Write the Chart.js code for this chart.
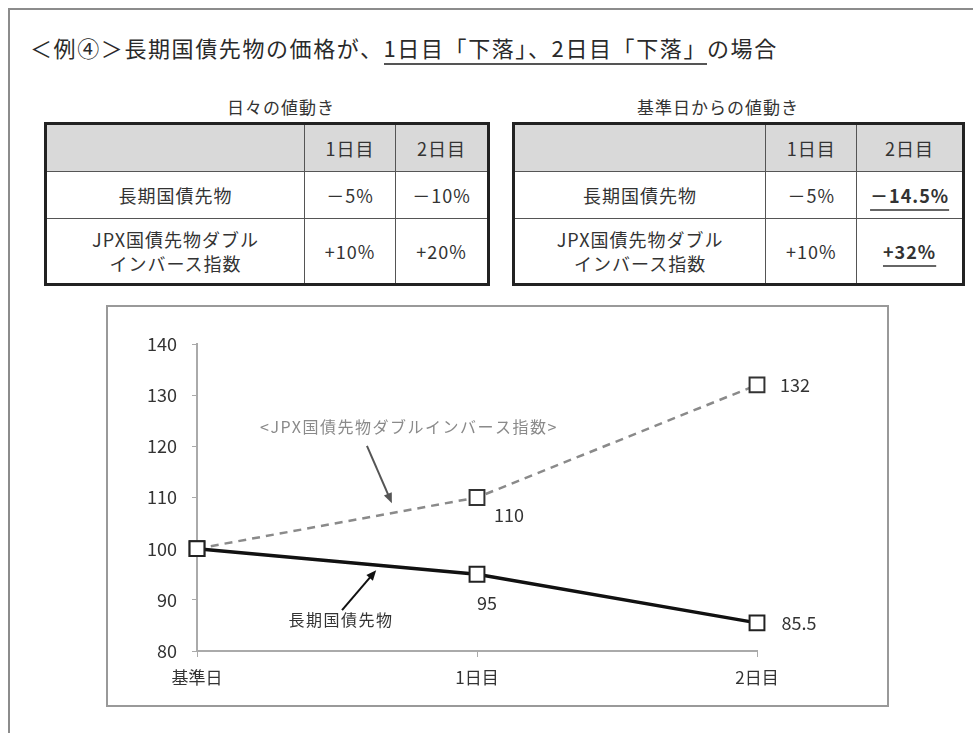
<!DOCTYPE html>
<html>
<head>
<meta charset="utf-8">
<script src="https://cdn.jsdelivr.net/npm/chart.js@4.4.0/dist/chart.umd.min.js"></script>
<style>
  body { margin: 0; width: 973px; height: 733px; overflow: hidden; background: #fff; position: relative;
         font-family: "Noto Sans CJK JP", sans-serif; color: #333; }
  .frame { position: absolute; left: 8px; top: 8px; width: 1000px; height: 800px; border: 2px solid #8c8c8c; }
  .title { position: absolute; left: 30px; top: 31px; font-size: 22px; line-height: 32px; color: #2a2a2a;
           white-space: nowrap; letter-spacing: 1.6px; }
  .title .ul { border-bottom: 2.5px solid #555; padding-bottom: 0px; }
  .sub { position: absolute; top: 96px; font-size: 17px; line-height: 22px; letter-spacing: 1px;
         transform: translateX(-50%); white-space: nowrap; }
  table { position: absolute; top: 122px; border-collapse: collapse; font-size: 18px; color: #333;
          border: 3px solid #222; letter-spacing: 1px; }
  td { border: 1.5px solid #555; text-align: center; padding: 0; line-height: 24px; }
  tr.head td { background: #d9d9d9; height: 46px; }
  tr.r1 td { height: 46px; }
  tr.r2 td { height: 64px; }
  .em { font-weight: bold; text-decoration: underline; text-decoration-thickness: 2px; text-underline-offset: 6px; text-decoration-color: #666; }
  .box { position: absolute; left: 106px; top: 305px; width: 779px; height: 398px; border: 2px solid #999; }
  canvas { display: block; }
</style>
</head>
<body>
<div class="frame"></div>
<div class="title">＜例④＞長期国債先物の価格が、<span class="ul">1日目「下落」、2日目「下落」</span>の場合</div>
<div class="sub" style="left:281px">日々の値動き</div>
<div class="sub" style="left:718px">基準日からの値動き</div>
<table id="tblDaily" style="left:44px;width:446px"></table>
<table id="tblCum" style="left:512px;width:453px"></table>
<div class="box"><canvas id="chart" width="779" height="398"></canvas></div>

<script>
// chart data
const categories = ['基準日', '1日目', '2日目'];
const futuresValues = [100, 95, 85.5];
const inverseValues = [100, 110, 132];
const yTicks = [80, 90, 100, 110, 120, 130, 140];

// table data
const dayHeaders = ['1日目', '2日目'];
const rowNames = ['長期国債先物', 'JPX国債先物ダブル<br>インバース指数'];
const dailyFutures = ['－5%', '－10%'];
const dailyInverse = ['+10%', '+20%'];
const cumFutures = ['－5%', '－14.5%'];
const cumInverse = ['+10%', '+32%'];

// Build a table
function buildTable(id, firstWidth, colWidths, rows, emphasize) {
  const t = document.getElementById(id);
  let html = `<tr class="head"><td style="width:${firstWidth}px"></td>`;
  dayHeaders.forEach((h, i) => { html += `<td style="width:${colWidths[i]}px">${h}</td>`; });
  html += '</tr>';
  rows.forEach((vals, r) => {
    html += `<tr class="r${r + 1}"><td>${rowNames[r]}</td>`;
    vals.forEach((v, i) => {
      const cls = emphasize && i === 1 ? ' class="em"' : '';
      html += `<td><span${cls}>${v}</span></td>`;
    });
    html += '</tr>';
  });
  t.innerHTML = html;
}
buildTable('tblDaily', 263, [91, 92], [dailyFutures, dailyInverse], false);
buildTable('tblCum', 256, [91, 106], [cumFutures, cumInverse], true);

// Point label offsets (px) per dataset / point
const labelOffsets = [
  [null, [10, 29], [42, 0]],
  [null, [32, 18], [38, 0]]
];

// Callouts in data coordinates (x = category index, y = value)
const callouts = [
  { text: '<JPX国債先物ダブルインバース指数>', x: 0.757, y: 123.8, color: '#8a8a8a',
    from: [0.607, 120.1], to: [0.696, 108.9], arrowColor: '#555' },
  { text: '長期国債先物', x: 0.514, y: 86.1, color: '#333',
    from: [0.518, 88.0], to: [0.64, 95.8], arrowColor: '#111' }
];

const labelPlugin = {
  id: 'labelPlugin',
  afterDatasetsDraw(chart) {
    const ctx = chart.ctx;
    const xs = chart.scales.x, ys = chart.scales.y;
    ctx.save();
    ctx.textAlign = 'center';
    ctx.textBaseline = 'middle';
    ctx.font = '18px "Noto Sans CJK JP", sans-serif';
    ctx.fillStyle = '#333';
    chart.data.datasets.forEach((ds, di) => {
      const meta = chart.getDatasetMeta(di);
      meta.data.forEach((pt, i) => {
        const off = labelOffsets[di][i];
        if (!off) return;
        ctx.fillText(String(ds.data[i]), pt.x + off[0], pt.y + off[1]);
      });
    });
    callouts.forEach(c => {
      ctx.font = '16px "Noto Sans CJK JP", sans-serif';
      ctx.letterSpacing = '1.5px';
      ctx.fillStyle = c.color;
      ctx.fillText(c.text, xs.getPixelForValue(c.x), ys.getPixelForValue(c.y));
      ctx.letterSpacing = '0px';
      const x1 = xs.getPixelForValue(c.from[0]), y1 = ys.getPixelForValue(c.from[1]);
      const x2 = xs.getPixelForValue(c.to[0]), y2 = ys.getPixelForValue(c.to[1]);
      const ang = Math.atan2(y2 - y1, x2 - x1);
      const head = 11;
      ctx.strokeStyle = c.arrowColor;
      ctx.fillStyle = c.arrowColor;
      ctx.lineWidth = 2;
      ctx.beginPath();
      ctx.moveTo(x1, y1);
      ctx.lineTo(x2 - Math.cos(ang) * head * 0.8, y2 - Math.sin(ang) * head * 0.8);
      ctx.stroke();
      ctx.beginPath();
      ctx.moveTo(x2, y2);
      ctx.lineTo(x2 - head * Math.cos(ang - 0.4), y2 - head * Math.sin(ang - 0.4));
      ctx.lineTo(x2 - head * Math.cos(ang + 0.4), y2 - head * Math.sin(ang + 0.4));
      ctx.closePath();
      ctx.fill();
    });
    ctx.restore();
  }
};

new Chart(document.getElementById('chart'), {
  type: 'line',
  data: {
    labels: categories,
    datasets: [
      {
        label: '長期国債先物',
        data: futuresValues,
        borderColor: '#111',
        borderWidth: 3.5,
        pointStyle: 'rect',
        pointRadius: 10.5,
        pointBorderWidth: 2,
        pointBorderColor: '#222',
        pointBackgroundColor: '#fff',
        tension: 0
      },
      {
        label: 'JPX国債先物ダブルインバース指数',
        data: inverseValues,
        borderColor: '#8a8a8a',
        borderWidth: 2.5,
        borderDash: [8, 6],
        pointStyle: 'rect',
        pointRadius: 10.5,
        pointBorderWidth: 2,
        pointBorderColor: '#333',
        pointBackgroundColor: '#fff',
        tension: 0
      }
    ]
  },
  options: {
    responsive: false,
    animation: false,
    layout: { padding: { top: 37, right: 130, left: 0, bottom: 0 } },
    plugins: { legend: { display: false }, tooltip: { enabled: false } },
    scales: {
      x: {
        offset: false,
        afterFit: s => { s.height = 54; },
        grid: { drawOnChartArea: false, drawTicks: true, tickLength: 6, color: '#aaa' },
        border: { display: true, color: '#aaa', width: 2 },
        ticks: { color: '#333', padding: 10, font: { size: 17, family: '"Noto Sans CJK JP", sans-serif' } }
      },
      y: {
        min: 80,
        max: 140,
        afterFit: s => { s.width = 89; },
        afterBuildTicks: s => { s.ticks = yTicks.map(v => ({ value: v })); },
        grid: { drawOnChartArea: false, drawTicks: true, tickLength: 5, color: '#aaa' },
        border: { display: true, color: '#aaa', width: 2 },
        ticks: { color: '#333', padding: 15, font: { size: 18, family: '"Noto Sans CJK JP", sans-serif' } }
      }
    }
  },
  plugins: [labelPlugin]
});
</script>
</body>
</html>
